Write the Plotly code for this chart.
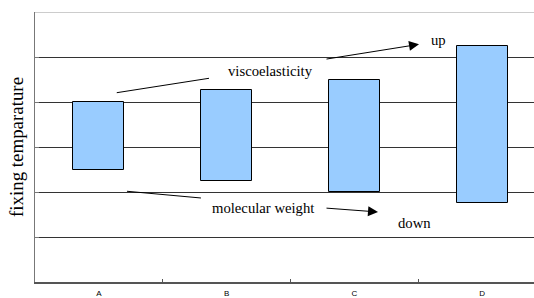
import plotly.graph_objects as go

categories = ["A", "B", "C", "D"]
bar_bottom = [2.5, 2.25, 2.0, 1.75]
bar_top = [4.0, 4.26, 4.5, 5.25]
y_title = "fixing temparature"

x_pos = list(range(len(categories)))
heights = [t - b for t, b in zip(bar_top, bar_bottom)]

fig = go.Figure()
fig.add_trace(go.Bar(
    x=x_pos, y=heights, base=bar_bottom, width=0.4,
    marker=dict(color="#99CCFF", line=dict(color="#000000", width=1)),
    showlegend=False, hoverinfo="skip",
))

serif = "Liberation Serif, Times New Roman, serif"

fig.update_layout(
    width=534, height=298,
    margin=dict(l=35, r=0, t=12, b=16),
    paper_bgcolor="white", plot_bgcolor="white",
    bargap=0,
    xaxis=dict(
        range=[-0.5, 3.406],
        tickvals=x_pos, ticktext=categories,
        ticks="", showgrid=False, zeroline=False,
        showline=True, linecolor="#555555", linewidth=2,
        tickfont=dict(family="Liberation Sans, Arial, sans-serif", size=8, color="#000000"),
        ticklabelstandoff=2,
        minor=dict(tickvals=[0.5, 1.5, 2.5], ticks="inside", ticklen=3,
                   tickcolor="#555555", tickwidth=1, showgrid=False),
    ),
    yaxis=dict(
        range=[0, 6],
        tickvals=[1, 2, 3, 4, 5],
        showticklabels=False,
        ticks="inside", ticklen=4, tickcolor="#777777",
        showgrid=True, gridcolor="#333333", gridwidth=1,
        zeroline=False,
        showline=True, linecolor="#777777", linewidth=1,
        title=dict(text=y_title, font=dict(family=serif, size=18.9, color="#000000"), standoff=5),
    ),
    shapes=[
        dict(type="line", xref="paper", yref="y", x0=0, x1=1, y0=6, y1=6,
             line=dict(color="#999999", width=1)),
        dict(type="line", xref="x", yref="y", x0=0.14, y0=4.207, x1=0.862, y1=4.527,
             line=dict(color="#000000", width=1)),
        dict(type="line", xref="x", yref="y", x0=0.22, y0=2.016, x1=0.799, y1=1.867,
             line=dict(color="#000000", width=1)),
    ],
)

txtfont = dict(family=serif, size=14.7, color="#000000")
fig.add_annotation(x=1.34, y=4.689, text="viscoelasticity", showarrow=False, font=txtfont)
fig.add_annotation(x=2.662, y=5.378, text="up", showarrow=False, font=txtfont)
fig.add_annotation(x=1.285, y=1.644, text="molecular weight", showarrow=False, font=txtfont)
fig.add_annotation(x=2.467, y=1.311, text="down", showarrow=False, font=txtfont)

for (x0, y0, x1, y1) in [(1.77, 4.949, 2.506, 5.282), (1.77, 1.644, 2.185, 1.556)]:
    fig.add_annotation(x=x1, y=y1, ax=x0, ay=y0, xref="x", yref="y", axref="x", ayref="y",
                       text="", showarrow=True, arrowhead=2, arrowsize=2, arrowwidth=1,
                       arrowcolor="#000000", standoff=0, startstandoff=0)

fig.write_html(
    "out.html",
    config={"displayModeBar": False},
    post_script="document.body.style.margin='0';document.body.style.overflow='hidden';",
)
